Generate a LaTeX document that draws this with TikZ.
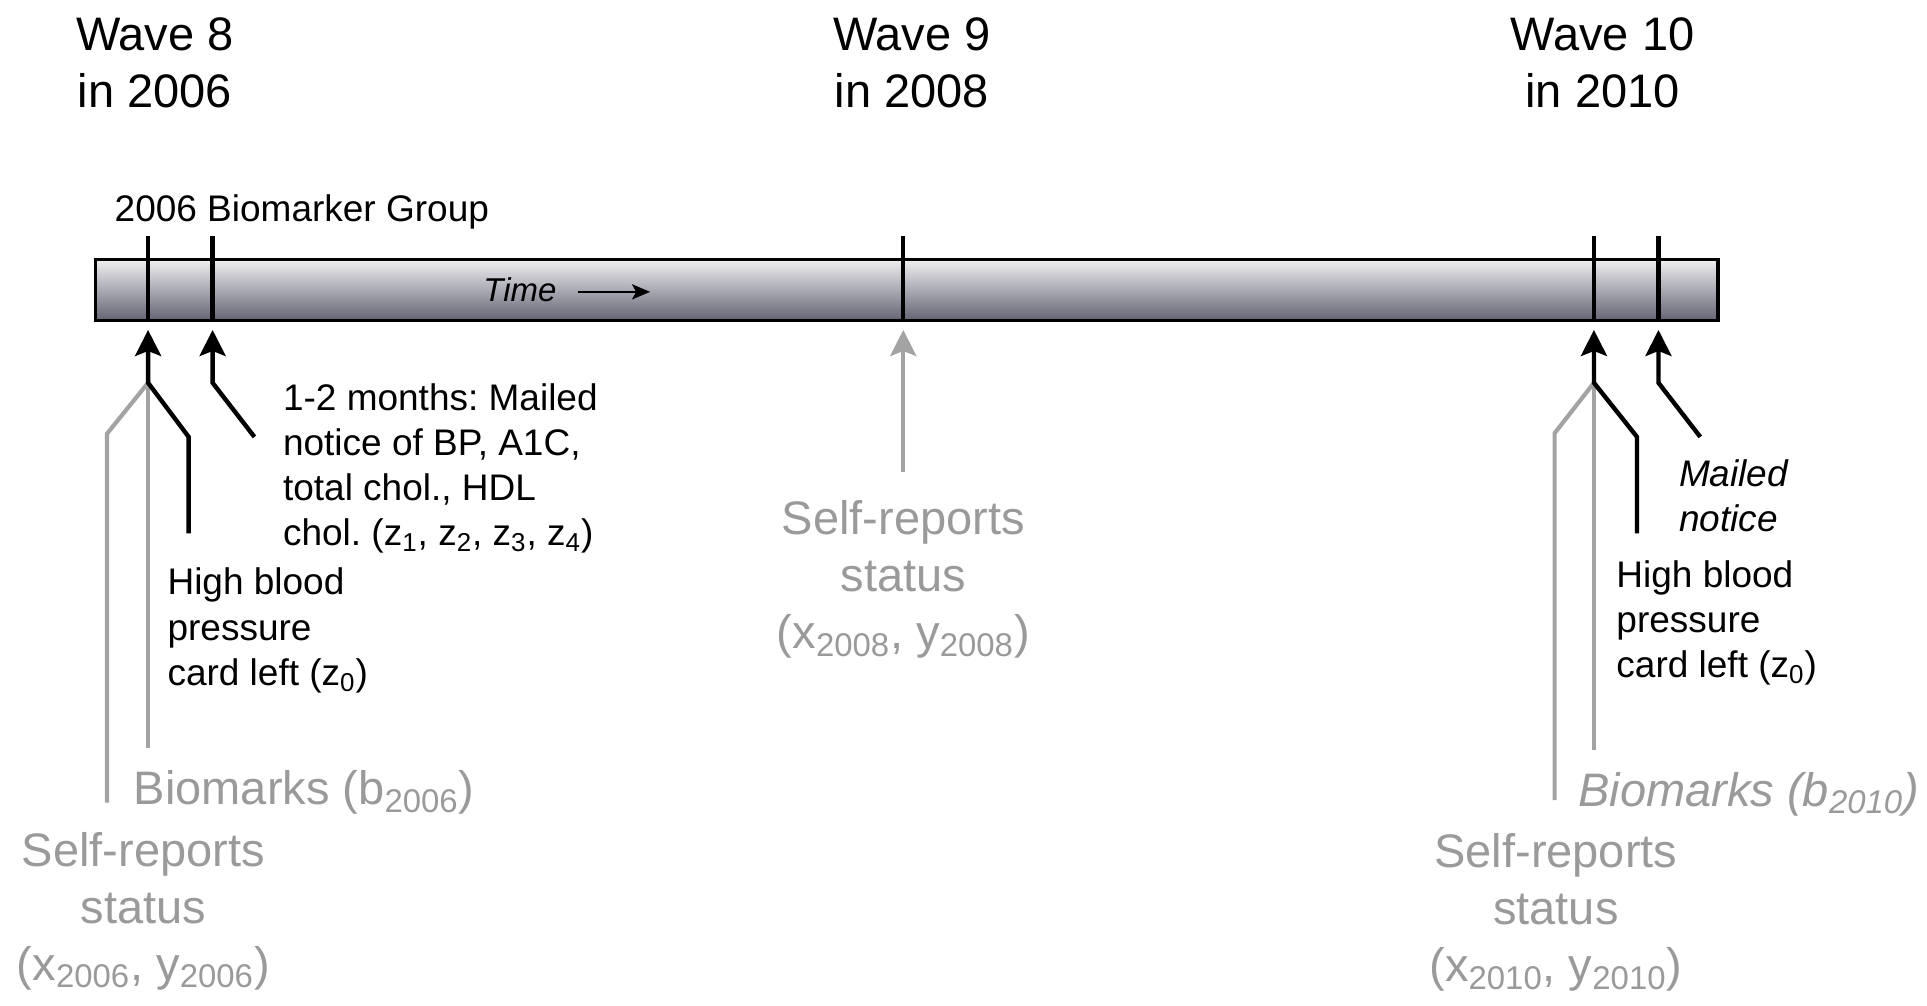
\documentclass[tikz,border=0pt]{standalone}
\usepackage{fontspec}
\setmainfont{Liberation Sans}
\usetikzlibrary{arrows.meta}
\definecolor{txtgray}{HTML}{9A9A9A}
\definecolor{lngray}{HTML}{A3A3A3}
\definecolor{bartop}{HTML}{F0F0F2}
\definecolor{barbot}{HTML}{646474}
\frenchspacing
\begin{document}
\begin{tikzpicture}[x=0.6145pt,y=-0.6145pt,
  wave/.style={font=\fontsize{23.5}{28.5}\selectfont, align=center, inner sep=0pt, anchor=base},
  blk/.style={font=\fontsize{18.5}{22.6}\selectfont, align=left, inner sep=0pt, anchor=base west},
  blkit/.style={blk, font=\fontsize{18.5}{22.6}\selectfont\itshape},
  gry/.style={font=\fontsize{23.5}{28.5}\selectfont, text=txtgray, align=center, inner sep=0pt, anchor=base},
  gryit/.style={gry, font=\fontsize{23.5}{28.5}\selectfont\itshape},
  tickln/.style={line width=2.2pt, black},
  blkln/.style={line width=2.2pt, black, line join=miter},
  gryln/.style={line width=2.1pt, lngray, line join=miter},
  arr/.style={-{Stealth[length=13pt,width=13pt,inset=2.5pt]}},
]
\useasboundingbox (0,0) rectangle (1568,818);

% titles (anchor = baseline of last line)
\node[wave] (w8) at (126,87.1) {Wave 8\\in 2006};
\node[wave] (w9) at (742,87.1) {Wave 9\\in 2008};
\node[wave] (w10) at (1304,87.1) {Wave 10\\in 2010};

\node[blk] (grp) at (93,180.4) {2006 Biomarker Group};

% bar
\draw[line width=1.6pt, top color=bartop, bottom color=barbot] (78,211) rectangle (1398,260.5);
\foreach \xx in {120.5,173,735,1297,1349.5}{
  \draw[tickln] (\xx,192) -- (\xx,260.5);
}

% time label
\node[font=\fontsize{16.5}{20}\selectfont\itshape, inner sep=0pt, anchor=base west] (time) at (393,245.7) {Time};
\coordinate (ts) at (470,237.5);
\coordinate (te) at (529,237.5);
\draw[line width=1.3pt, -{Stealth[length=9pt,width=7.5pt,inset=2pt]}] (ts) -- (te);

% coordinates
\coordinate (tipA) at (120.5,268.5);
\coordinate (jA) at (120.5,311.5);
\coordinate (tipB) at (173,268.5);
\coordinate (jB) at (173,311.5);
\coordinate (tipC) at (735,268.5);
\coordinate (bC) at (735,384);
\coordinate (tipD) at (1297,268.5);
\coordinate (jD) at (1297,311.5);
\coordinate (tipE) at (1349.5,268.5);
\coordinate (jE) at (1349.5,311.5);

% left group (2006)
\draw[gryln] (87,653) -- (87,353) -- (jA);
\draw[gryln] (120.5,609) -- (jA);
\draw[blkln, arr] (153.5,434) -- (153.5,355.5) -- (jA) -- (tipA);
\draw[blkln, arr] (207,355.5) -- (jB) -- (tipB);

% middle (2008)
\draw[gryln, arr] (bC) -- (tipC);

% right group (2010)
\draw[gryln] (1265,651) -- (1265,352.5) -- (jD);
\draw[gryln] (1297,610) -- (jD);
\draw[blkln, arr] (1332,434) -- (1332,355.5) -- (jD) -- (tipD);
\draw[blkln, arr] (1383.5,355.5) -- (jE) -- (tipE);

% texts (anchor = baseline of last line)
\node[blk] (mail1) at (230,444) {1-2 months: Mailed\\notice of BP, A1C,\\total chol., HDL\\chol. (z\textsubscript{1}, z\textsubscript{2}, z\textsubscript{3}, z\textsubscript{4})};
\node[blk] (hbp1) at (136,557.6) {High blood\\pressure\\card left (z\textsubscript{0})};
\node[gry, anchor=base west] (bio1) at (108.6,655) {Biomarks (b\textsubscript{2006})};
\node[gry] (sr1) at (116.6,797.8) {Self-reports\\status\\(x\textsubscript{2006}, y\textsubscript{2006})};

\node[gry] (sr2) at (735,527.8) {Self-reports\\status\\(x\textsubscript{2008}, y\textsubscript{2008})};

\node[blkit] (mail2) at (1366,432.8) {Mailed\\notice};
\node[blk] (hbp2) at (1315,551.2) {High blood\\pressure\\card left (z\textsubscript{0})};
\node[gryit, anchor=base west] (bio2) at (1284,656) {Biomarks (b\textsubscript{2010})};
\node[gry] (sr3) at (1266,799) {Self-reports\\status\\(x\textsubscript{2010}, y\textsubscript{2010})};
\end{tikzpicture}
\end{document}
